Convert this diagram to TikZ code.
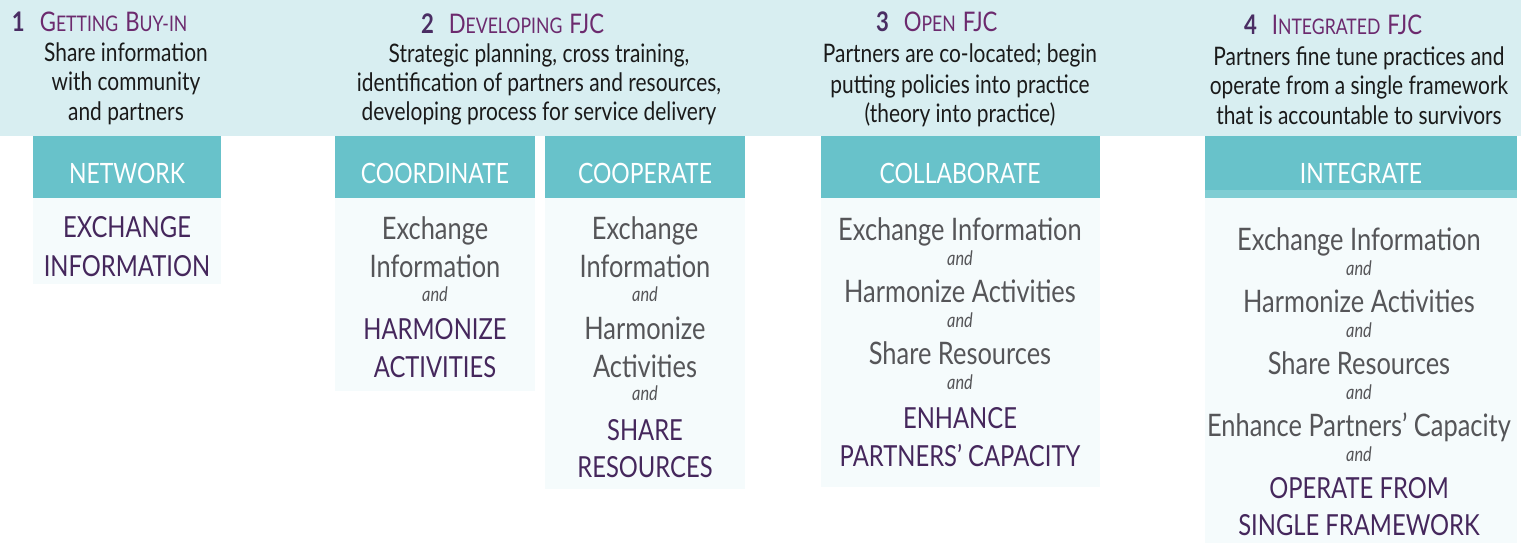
\documentclass[tikz,border=0pt]{standalone}
\usepackage{fontspec}
\setmainfont{Lato}[FakeStretch=0.82]
\definecolor{bandc}{RGB}{216,238,241}
\definecolor{headc}{RGB}{104,194,202}
\definecolor{stripc}{RGB}{127,205,211}
\definecolor{bodyc}{RGB}{245,251,252}
\definecolor{purpc}{RGB}{69,39,92}
\definecolor{titlec}{RGB}{108,42,110}
\definecolor{numc}{RGB}{74,45,99}
\definecolor{grayc}{RGB}{85,85,88}
\definecolor{blackc}{RGB}{26,26,26}
\newcommand\BigC[1]{{\fontsize{27}{27}\selectfont #1}}
\newcommand\SmlC[1]{{\fontsize{21.5}{21}\selectfont #1}}
\newcommand\Num[1]{{\fontsize{27}{27}\selectfont\bfseries\color{numc}#1}\hspace{15pt}}
\newcommand\Gap{\hspace{7pt}}
\begin{document}
\begin{tikzpicture}[x=1pt,y=-1pt,
  txt/.style={anchor=base,inner sep=0pt,outer sep=0pt},
  ttl/.style={anchor=base west,inner sep=0pt,outer sep=0pt,text=titlec},
  bandtxt/.style={txt,font=\fontsize{25.5}{25}\selectfont,text=blackc},
  hdr/.style={txt,font=\fontsize{28}{28}\selectfont,text=white},
  gray/.style={txt,font=\fontsize{31}{31}\selectfont,text=grayc},
  purp/.style={txt,font=\fontsize{29}{29}\selectfont,text=purpc},
  andtxt/.style={txt,font=\itshape\fontsize{20}{20}\selectfont,text=grayc}]
\useasboundingbox (0,0) rectangle (1521,543);
% band
\fill[bandc] (0,0) rectangle (1521,136);
% headings
\node[ttl] (t1) at (12,32) {\Num{1}\BigC{G}\SmlC{ETTING}\Gap\BigC{B}\SmlC{UY-IN}};
\node[ttl] (t2) at (421,34) {\Num{2}\BigC{D}\SmlC{EVELOPING}\Gap\BigC{FJC}};
\node[ttl] (t3) at (876,32) {\Num{3}\BigC{O}\SmlC{PEN}\Gap\BigC{FJC}};
\node[ttl] (t4) at (1244,35) {\Num{4}\BigC{I}\SmlC{NTEGRATED}\Gap\BigC{FJC}};
% band texts
\node[bandtxt] (b1a) at (126,62) {Share information};
\node[bandtxt] (b1b) at (126,91) {with community};
\node[bandtxt] (b1c) at (126,120) {and partners};
\node[bandtxt] (b2a) at (539,63) {Strategic planning, cross training,};
\node[bandtxt] (b2b) at (539,92) {identification of partners and resources,};
\node[bandtxt] (b2c) at (539,121) {developing process for service delivery};
\node[bandtxt] (b3a) at (960,63) {Partners are co-located; begin};
\node[bandtxt] (b3b) at (960,93) {putting policies into practice};
\node[bandtxt] (b3c) at (960,122) {(theory into practice)};
\node[bandtxt] (b4a) at (1359,66) {Partners fine tune practices and};
\node[bandtxt] (b4b) at (1359,95) {operate from a single framework};
\node[bandtxt] (b4c) at (1359,124) {that is accountable to survivors};
% boxes
\fill[headc] (33,136) rectangle (221,198);
\fill[bodyc] (33,198) rectangle (221,284);
\fill[headc] (335,136) rectangle (535,198);
\fill[bodyc] (335,198) rectangle (535,391);
\fill[headc] (545,136) rectangle (745,198);
\fill[bodyc] (545,198) rectangle (745,489);
\fill[headc] (821,136) rectangle (1100,198);
\fill[bodyc] (821,198) rectangle (1100,487);
\fill[headc] (1205,136) rectangle (1517,190);
\fill[stripc] (1205,190) rectangle (1517,198);
\fill[bodyc] (1205,198) rectangle (1517,543);
% headers
\node[hdr] (h1) at (127,183) {NETWORK};
\node[hdr] (h2) at (435,183) {COORDINATE};
\node[hdr] (h3) at (645,183) {COOPERATE};
\node[hdr] (h4) at (960,183) {COLLABORATE};
\node[hdr] (h5) at (1361,183) {INTEGRATE};
% network
\node[purp] (n1) at (127,237) {EXCHANGE};
\node[purp] (n2) at (127,276) {INFORMATION};
% coordinate
\node[gray] (c1) at (435,239) {Exchange};
\node[gray] (c2) at (435,277) {Information};
\node[andtxt] (c3) at (435,301) {and};
\node[purp] (c4) at (435,339) {HARMONIZE};
\node[purp] (c5) at (435,377) {ACTIVITIES};
% cooperate
\node[gray] (p1) at (645,239) {Exchange};
\node[gray] (p2) at (645,277) {Information};
\node[andtxt] (p3) at (645,301) {and};
\node[gray] (p4) at (645,339) {Harmonize};
\node[gray] (p5) at (645,377) {Activities};
\node[andtxt] (p6) at (645,400) {and};
\node[purp] (p7) at (645,440) {SHARE};
\node[purp] (p8) at (645,477) {RESOURCES};
% collaborate
\node[gray] (l1) at (960,240) {Exchange Information};
\node[andtxt] (l2) at (960,265) {and};
\node[gray] (l3) at (960,302) {Harmonize Activities};
\node[andtxt] (l4) at (960,327) {and};
\node[gray] (l5) at (960,364) {Share Resources};
\node[andtxt] (l6) at (960,389) {and};
\node[purp] (l7) at (960,428) {ENHANCE};
\node[purp] (l8) at (960,466) {PARTNERS’ CAPACITY};
% integrate
\node[gray] (i1) at (1359,250) {Exchange Information};
\node[andtxt] (i2) at (1359,275) {and};
\node[gray] (i3) at (1359,312) {Harmonize Activities};
\node[andtxt] (i4) at (1359,337) {and};
\node[gray] (i5) at (1359,374) {Share Resources};
\node[andtxt] (i6) at (1359,399) {and};
\node[gray] (i7) at (1359,436) {Enhance Partners’ Capacity};
\node[andtxt] (i8) at (1359,461) {and};
\node[purp] (i9) at (1359,498) {OPERATE FROM};
\node[purp] (i10) at (1359,535) {SINGLE FRAMEWORK};
\end{tikzpicture}
\end{document}
